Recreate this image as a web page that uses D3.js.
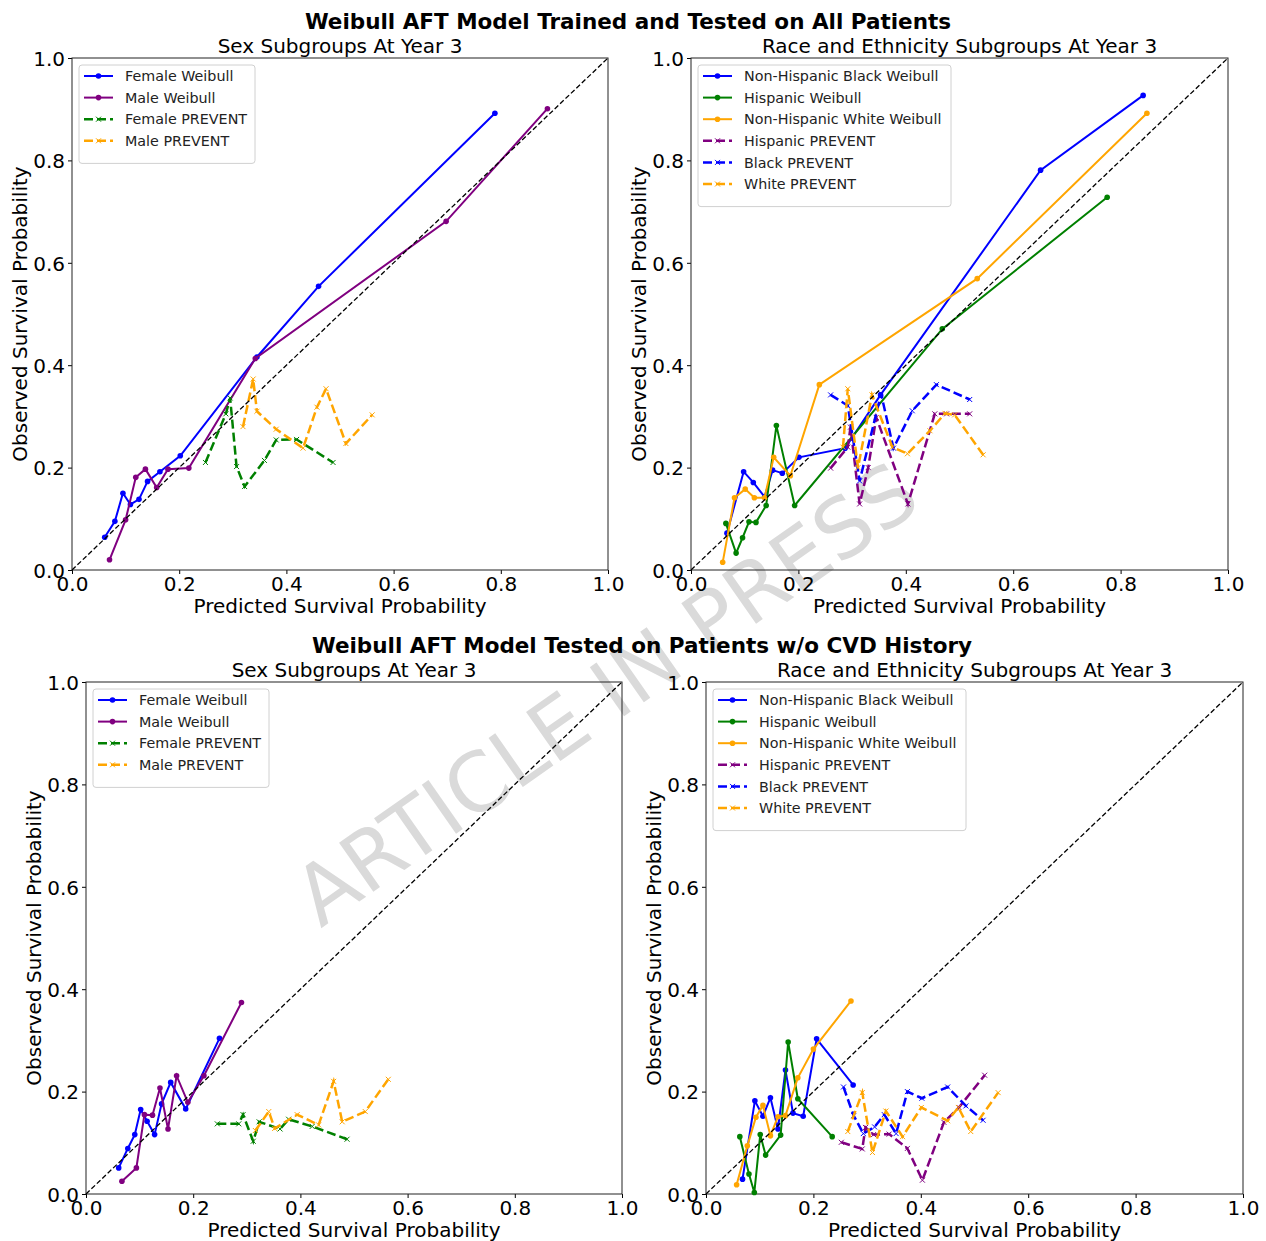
<!DOCTYPE html>
<html><head><meta charset="utf-8">
<script src="https://cdn.jsdelivr.net/npm/d3@7"></script>
<style>body{margin:0;background:#fff;} svg{display:block;}</style>
</head><body>
<script>
// ---- Data ----
const tickValues = [0, 0.2, 0.4, 0.6, 0.8, 1.0];
const mainTitles = ["Weibull AFT Model Trained and Tested on All Patients", "Weibull AFT Model Tested on Patients w/o CVD History"];
const subTitles = ["Sex Subgroups At Year 3", "Race and Ethnicity Subgroups At Year 3"];
const xLabel = "Predicted Survival Probability";
const yLabel = "Observed Survival Probability";

// Panel A: all patients, sex
const allFemaleWeibull = [[0.061,0.064],[0.080,0.095],[0.095,0.150],[0.109,0.128],[0.125,0.138],[0.141,0.173],[0.164,0.192],[0.202,0.223],[0.345,0.416],[0.460,0.554],[0.789,0.892]];
const allMaleWeibull = [[0.070,0.020],[0.100,0.098],[0.119,0.181],[0.137,0.197],[0.158,0.161],[0.179,0.197],[0.218,0.199],[0.342,0.413],[0.698,0.681],[0.887,0.901]];
const allFemalePrevent = [[0.249,0.210],[0.287,0.305],[0.295,0.336],[0.307,0.202],[0.322,0.163],[0.359,0.214],[0.381,0.254],[0.419,0.255],[0.487,0.210]];
const allMalePrevent = [[0.319,0.280],[0.338,0.373],[0.345,0.310],[0.381,0.275],[0.431,0.238],[0.457,0.318],[0.474,0.354],[0.511,0.247],[0.560,0.303]];
// Panel B: all patients, race/ethnicity
const allBlackWeibull = [[0.067,0.072],[0.098,0.192],[0.116,0.171],[0.137,0.143],[0.152,0.195],[0.170,0.189],[0.201,0.220],[0.287,0.238],[0.353,0.342],[0.651,0.781],[0.842,0.927]];
const allHispWeibull = [[0.065,0.091],[0.084,0.033],[0.096,0.063],[0.108,0.094],[0.121,0.093],[0.140,0.126],[0.159,0.282],[0.193,0.126],[0.468,0.471],[0.775,0.728]];
const allWhiteWeibull = [[0.059,0.015],[0.081,0.141],[0.101,0.158],[0.118,0.141],[0.137,0.141],[0.154,0.220],[0.185,0.184],[0.239,0.362],[0.533,0.569],[0.849,0.892]];
const allHispPrevent = [[0.260,0.199],[0.292,0.240],[0.297,0.279],[0.314,0.129],[0.330,0.200],[0.345,0.298],[0.404,0.129],[0.454,0.305],[0.476,0.305],[0.519,0.305]];
const allBlackPrevent = [[0.260,0.342],[0.292,0.321],[0.314,0.174],[0.354,0.344],[0.377,0.238],[0.412,0.311],[0.457,0.362],[0.519,0.333]];
const allWhitePrevent = [[0.283,0.240],[0.292,0.354],[0.311,0.200],[0.337,0.342],[0.375,0.240],[0.403,0.227],[0.445,0.272],[0.473,0.306],[0.491,0.303],[0.544,0.225]];
// Panel C: no CVD history, sex
const noCvdFemaleWeibull = [[0.061,0.051],[0.078,0.089],[0.091,0.116],[0.102,0.165],[0.114,0.142],[0.128,0.116],[0.141,0.176],[0.158,0.218],[0.186,0.166],[0.249,0.304]];
const noCvdMaleWeibull = [[0.067,0.025],[0.094,0.051],[0.109,0.155],[0.124,0.154],[0.138,0.207],[0.153,0.127],[0.169,0.231],[0.190,0.179],[0.220,0.231],[0.290,0.374]];
const noCvdFemalePrevent = [[0.245,0.137],[0.285,0.137],[0.293,0.155],[0.312,0.103],[0.323,0.141],[0.362,0.127],[0.378,0.146],[0.422,0.132],[0.487,0.107]];
const noCvdMalePrevent = [[0.316,0.124],[0.341,0.161],[0.352,0.128],[0.394,0.155],[0.434,0.135],[0.462,0.220],[0.478,0.141],[0.521,0.161],[0.564,0.224]];
// Panel D: no CVD history, race/ethnicity
const noCvdBlackWeibull = [[0.068,0.029],[0.091,0.182],[0.106,0.152],[0.120,0.188],[0.134,0.127],[0.148,0.242],[0.162,0.158],[0.181,0.152],[0.206,0.303],[0.274,0.213]];
const noCvdHispWeibull = [[0.063,0.112],[0.080,0.039],[0.090,0.003],[0.101,0.116],[0.111,0.076],[0.139,0.115],[0.153,0.297],[0.171,0.186],[0.235,0.112]];
const noCvdWhiteWeibull = [[0.057,0.018],[0.077,0.094],[0.093,0.150],[0.106,0.173],[0.120,0.114],[0.134,0.151],[0.148,0.153],[0.171,0.227],[0.200,0.283],[0.270,0.377]];
const noCvdHispPrevent = [[0.252,0.101],[0.291,0.088],[0.297,0.130],[0.312,0.116],[0.341,0.117],[0.375,0.089],[0.403,0.027],[0.443,0.140],[0.471,0.169],[0.519,0.232]];
const noCvdBlackPrevent = [[0.256,0.209],[0.275,0.153],[0.293,0.118],[0.314,0.131],[0.332,0.155],[0.354,0.118],[0.375,0.200],[0.402,0.187],[0.450,0.209],[0.484,0.172],[0.516,0.144]];
const noCvdWhitePrevent = [[0.264,0.122],[0.291,0.198],[0.310,0.081],[0.335,0.162],[0.366,0.112],[0.401,0.169],[0.450,0.143],[0.470,0.169],[0.493,0.122],[0.544,0.198]];

const sexNames = ["Female Weibull","Male Weibull","Female PREVENT","Male PREVENT"];
const raceNames = ["Non-Hispanic Black Weibull","Hispanic Weibull","Non-Hispanic White Weibull","Hispanic PREVENT","Black PREVENT","White PREVENT"];
const sexColors = ["#0000ff","#800080","#008000","#ffa500"];
const raceColors = ["#0000ff","#008000","#ffa500","#800080","#0000ff","#ffa500"];
const sexKinds = ["weibull","weibull","prevent","prevent"];
const raceKinds = ["weibull","weibull","weibull","prevent","prevent","prevent"];

// ---- Layout ----
const W = 1266, H = 1241;
const FONT = "DejaVu Sans, Verdana, sans-serif";
const svg = d3.select("body").append("svg").attr("width", W).attr("height", H)
  .style("font-family", FONT);

// watermark (behind everything)
svg.append("text").attr("x", 606).attr("y", 694)
  .attr("transform", "rotate(-35,606,694)")
  .attr("text-anchor", "middle").attr("dominant-baseline", "central")
  .attr("font-size", 82).attr("fill", "#dadada")
  .text("ARTICLE IN PRESS");

const panels = [
  {left:72, top:58, w:536, h:512, sub:subTitles[0], names:sexNames, colors:sexColors, kinds:sexKinds,
   data:[allFemaleWeibull, allMaleWeibull, allFemalePrevent, allMalePrevent], legW:176},
  {left:691, top:58, w:537, h:512, sub:subTitles[1], names:raceNames, colors:raceColors, kinds:raceKinds,
   data:[allBlackWeibull, allHispWeibull, allWhiteWeibull, allHispPrevent, allBlackPrevent, allWhitePrevent], legW:253},
  {left:86, top:682, w:536, h:512, sub:subTitles[0], names:sexNames, colors:sexColors, kinds:sexKinds,
   data:[noCvdFemaleWeibull, noCvdMaleWeibull, noCvdFemalePrevent, noCvdMalePrevent], legW:176},
  {left:706, top:682, w:537, h:512, sub:subTitles[1], names:raceNames, colors:raceColors, kinds:raceKinds,
   data:[noCvdBlackWeibull, noCvdHispWeibull, noCvdWhiteWeibull, noCvdHispPrevent, noCvdBlackPrevent, noCvdWhitePrevent], legW:253}
];

// main titles
svg.append("text").attr("x", 628).attr("y", 29).attr("text-anchor","middle")
  .attr("font-size", 21.5).attr("font-weight","bold").text(mainTitles[0]);
svg.append("text").attr("x", 642).attr("y", 653).attr("text-anchor","middle")
  .attr("font-size", 21.5).attr("font-weight","bold").text(mainTitles[1]);

function xMarker(g, x, y, s, color, sw) {
  g.append("path").attr("d", `M${x-s},${y-s}L${x+s},${y+s}M${x-s},${y+s}L${x+s},${y-s}`)
    .attr("stroke", color).attr("stroke-width", sw).attr("fill","none");
}

panels.forEach(p => {
  const g = svg.append("g").attr("transform", `translate(${p.left},${p.top})`);
  const x = d3.scaleLinear().domain([0,1]).range([0,p.w]);
  const y = d3.scaleLinear().domain([0,1]).range([p.h,0]);

  // axes
  const xa = g.append("g").attr("transform", `translate(0,${p.h})`)
    .call(d3.axisBottom(x).tickValues(tickValues).tickFormat(d3.format(".1f")).tickSize(4).tickPadding(3));
  const ya = g.append("g")
    .call(d3.axisLeft(y).tickValues(tickValues).tickFormat(d3.format(".1f")).tickSize(4).tickPadding(3));
  [xa, ya].forEach(a => {
    a.select(".domain").remove();
    a.selectAll("line").attr("stroke","#000").attr("stroke-width",1);
    a.selectAll("text").attr("font-size", 20).attr("font-family", FONT).attr("fill","#000");
  });
  xa.selectAll("text").attr("dy", "0.72em");
  ya.selectAll("text").attr("dy", "0.36em");

  // frame
  g.append("rect").attr("x",0).attr("y",0).attr("width",p.w).attr("height",p.h)
    .attr("fill","none").attr("stroke","#222").attr("stroke-width",1);

  // subtitle & labels
  g.append("text").attr("x", p.w/2).attr("y", -5).attr("text-anchor","middle")
    .attr("font-size", 20).text(p.sub);
  g.append("text").attr("x", p.w/2).attr("y", p.h + 43).attr("text-anchor","middle")
    .attr("font-size", 20).text(xLabel);
  g.append("text").attr("transform", `translate(-45,${p.h/2}) rotate(-90)`)
    .attr("text-anchor","middle").attr("font-size", 20).text(yLabel);

  const line = d3.line().x(d => x(d[0])).y(d => y(d[1]));

  // series
  p.data.forEach((ser, i) => {
    const c = p.colors[i];
    if (p.kinds[i] === "weibull") {
      g.append("path").datum(ser).attr("d", line).attr("fill","none")
        .attr("stroke", c).attr("stroke-width", 2);
      g.selectAll(null).data(ser).enter().append("circle")
        .attr("cx", d => x(d[0])).attr("cy", d => y(d[1])).attr("r", 2.8).attr("fill", c);
    } else {
      g.append("path").datum(ser).attr("d", line).attr("fill","none")
        .attr("stroke", c).attr("stroke-width", 2.5).attr("stroke-dasharray","9,4");
      ser.forEach(d => xMarker(g, x(d[0]), y(d[1]), 2.5, c, 1));
    }
  });

  // diagonal
  g.append("path").datum([[0,0],[1,1]]).attr("d", line).attr("fill","none")
    .attr("stroke","#000").attr("stroke-width",1.3).attr("stroke-dasharray","5,2.5");

  // legend
  const n = p.names.length;
  const lg = g.append("g").attr("transform", "translate(7,7)");
  lg.append("rect").attr("width", p.legW).attr("height", 12 + n*21.6).attr("rx",3)
    .attr("fill","#fff").attr("fill-opacity",0.8).attr("stroke","#d0d0d0").attr("stroke-width",1);
  p.names.forEach((name, i) => {
    const cy = 11 + i*21.6;
    const c = p.colors[i];
    if (p.kinds[i] === "weibull") {
      lg.append("line").attr("x1",5).attr("x2",34).attr("y1",cy).attr("y2",cy)
        .attr("stroke", c).attr("stroke-width",2);
      lg.append("circle").attr("cx",19.5).attr("cy",cy).attr("r",2.8).attr("fill",c);
    } else {
      lg.append("line").attr("x1",5).attr("x2",34).attr("y1",cy).attr("y2",cy)
        .attr("stroke", c).attr("stroke-width",2.5).attr("stroke-dasharray","9,4");
      xMarker(lg, 19.5, cy, 2.5, c, 1);
    }
    lg.append("text").attr("x", 46).attr("y", cy).attr("dy","0.36em")
      .attr("font-size", 14.3).attr("fill","#222").text(name);
  });
});
</script>
</body></html>
